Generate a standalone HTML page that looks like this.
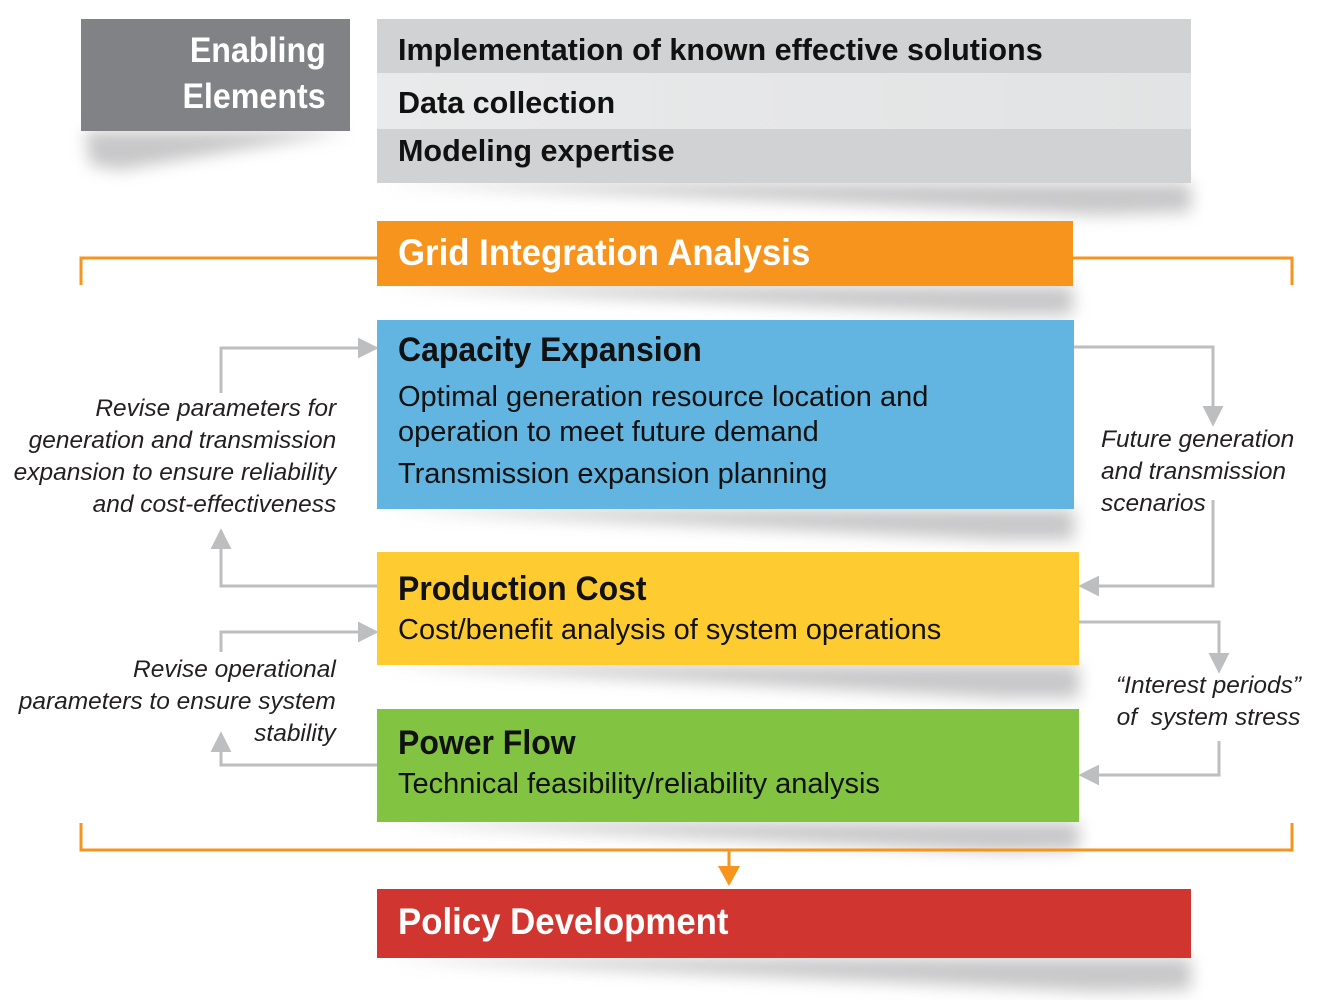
<!DOCTYPE html>
<html><head><meta charset="utf-8"><style>
body{margin:0;width:1321px;height:1000px;background:#fff;position:relative;overflow:hidden;font-family:"Liberation Sans",sans-serif}
.b{position:absolute}
.t{position:absolute;white-space:nowrap;transform-origin:0 0;transform:scaleX(0.94)}
.r{transform:scaleX(0.985)}
.n{transform:none}
.it{position:absolute;white-space:nowrap;font-style:italic;font-size:24px;color:#231f20;transform:scaleX(1.02);line-height:32px}
</style></head><body>
<svg class="b" style="left:0;top:0" width="1321" height="1000">
<defs><filter id="f" x="-10%" y="-50%" width="120%" height="200%"><feGaussianBlur stdDeviation="8"/></filter>
<marker id="a" viewBox="0 0 10 10" refX="2" refY="5" markerWidth="7" markerHeight="7" orient="auto"><path d="M0,0L10,5L0,10z" fill="#bcbec0"/></marker></defs>
<g fill="#9a9a9c" filter="url(#f)" opacity="0.55">
<polygon points="85,131 350,131 120,170 90,165"/>
<polygon points="380,183 1191,183 1191,212 1100,215"/>
<polygon points="380,286 1073,286 1073,315 1000,315"/>
<polygon points="380,509 1074,509 1074,540 1000,540"/>
<polygon points="380,665 1079,665 1079,698 1000,698"/>
<polygon points="380,822 1079,822 1079,850 1000,852"/>
<polygon points="380,958 1191,958 1191,990 1100,992"/>
</g>
<g fill="none" stroke="#f7941d" stroke-width="3">
<polyline points="81,285 81,258 377,258"/>
<polyline points="1073,258 1292,258 1292,285"/>
<polyline points="81,823 81,850 1292,850 1292,823"/>
<line x1="729" y1="850" x2="729" y2="868"/>
</g>
<path d="M718,866L740,866L729,886z" fill="#f7941d"/>
<g fill="none" stroke="#bcbec0" stroke-width="3" marker-end="url(#a)">
<polyline points="377,586 221,586 221,545"/>
<polyline points="221,393 221,348 362,348"/>
<polyline points="377,765 221,765 221,748"/>
<polyline points="221,652 221,632 362,632"/>
<polyline points="1074,347 1213,347 1213,410"/>
<polyline points="1213,500 1213,586 1095,586"/>
<polyline points="1079,622 1219,622 1219,657"/>
<polyline points="1219,741 1219,775 1095,775"/>
</g>
</svg>
<div class="b" style="left:81px;top:19px;width:269px;height:112px;background:#818285"></div>
<div class="t n" style="left:100px;top:28px;font-size:35px;font-weight:bold;color:#fff;line-height:46px;text-align:right;width:226px"><span style="display:inline-block;transform:scaleX(0.92);transform-origin:100% 0">Enabling</span><br><span style="display:inline-block;transform:scaleX(0.92);transform-origin:100% 0">Elements</span></div>
<div class="b" style="left:377px;top:19px;width:814px;height:54px;background:#d1d2d4"></div>
<div class="b" style="left:377px;top:73px;width:814px;height:56px;background:linear-gradient(90deg,#e9eaeb,#e2e3e4)"></div>
<div class="b" style="left:377px;top:129px;width:814px;height:54px;background:#d1d2d4"></div>
<div class="t r" style="left:398px;top:32px;font-size:31px;font-weight:bold;color:#111">Implementation of known effective solutions</div>
<div class="t r" style="left:398px;top:85px;font-size:31px;font-weight:bold;color:#111">Data collection</div>
<div class="t r" style="left:398px;top:133px;font-size:31px;font-weight:bold;color:#111">Modeling expertise</div>
<div class="b" style="left:377px;top:221px;width:696px;height:65px;background:#f7941d"></div>
<div class="t" style="left:398px;top:232px;font-size:37px;font-weight:bold;color:#fff">Grid Integration Analysis</div>
<div class="b" style="left:377px;top:320px;width:697px;height:189px;background:#62b5e0"></div>
<div class="t" style="left:398px;top:331px;font-size:34px;font-weight:bold;color:#111">Capacity Expansion</div>
<div class="t n" style="left:398px;top:380px;font-size:29px;color:#111;line-height:35px">Optimal generation resource location and<br>operation to meet future demand</div>
<div class="t n" style="left:398px;top:458px;font-size:29px;color:#111">Transmission expansion planning</div>
<div class="b" style="left:377px;top:552px;width:702px;height:113px;background:#fecc31"></div>
<div class="t" style="left:398px;top:570px;font-size:34px;font-weight:bold;color:#111">Production Cost</div>
<div class="t n" style="left:398px;top:614px;font-size:29px;color:#111">Cost/benefit analysis of system operations</div>
<div class="b" style="left:377px;top:709px;width:702px;height:113px;background:#82c341"></div>
<div class="t" style="left:398px;top:724px;font-size:34px;font-weight:bold;color:#111">Power Flow</div>
<div class="t n" style="left:398px;top:768px;font-size:29px;color:#111">Technical feasibility/reliability analysis</div>
<div class="b" style="left:377px;top:889px;width:814px;height:69px;background:#d1352f"></div>
<div class="t" style="left:398px;top:901px;font-size:37px;font-weight:bold;color:#fff">Policy Development</div>
<div class="it" style="right:985px;top:393px;text-align:right;transform-origin:100% 0">Revise parameters for<br>generation and transmission<br>expansion to ensure reliability<br>and cost-effectiveness</div>
<div class="it" style="right:985px;top:654px;text-align:right;transform-origin:100% 0">Revise operational<br>parameters to ensure system<br>stability</div>
<div class="it" style="left:1101px;top:424px;transform-origin:0 0">Future generation<br>and transmission<br>scenarios</div>
<div class="it" style="left:1116px;top:670px;text-align:center;transform-origin:0 0">“Interest periods”<br>of&nbsp; system stress</div>
</body></html>
